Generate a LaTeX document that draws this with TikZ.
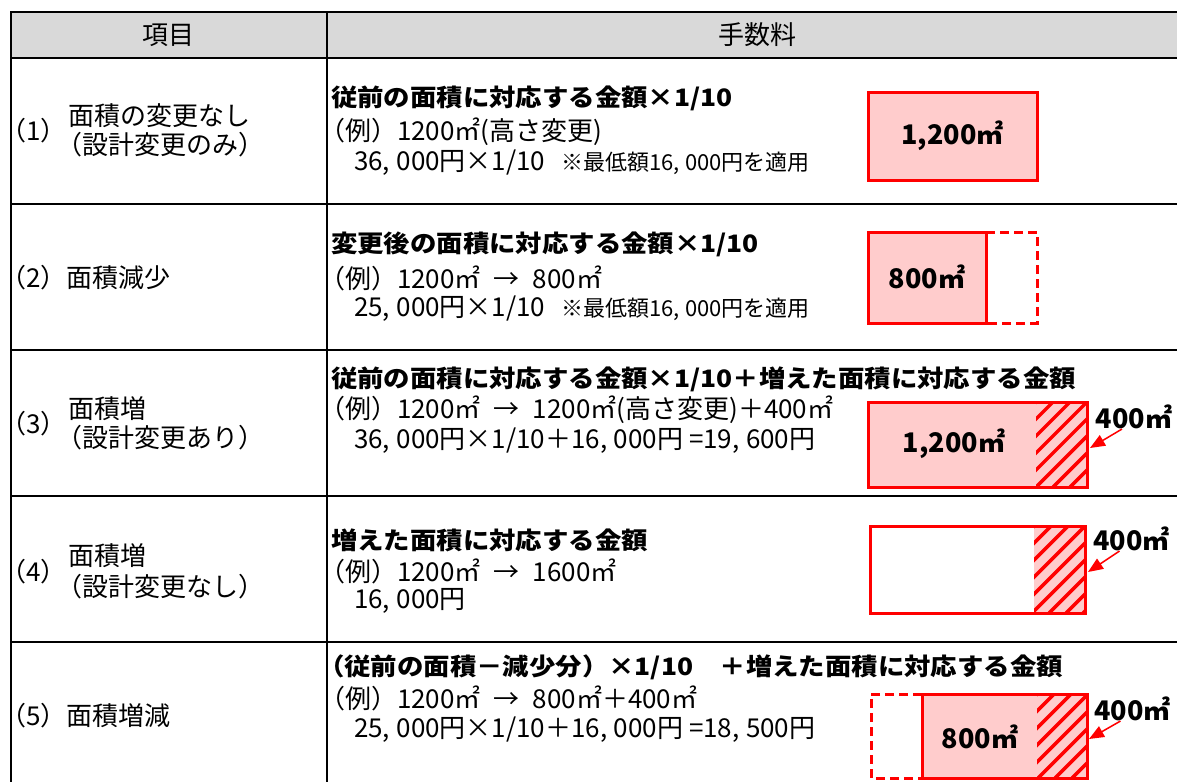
\documentclass[tikz,border=0pt]{standalone}
\usepackage{fontspec}
\setmainfont{Noto Sans CJK JP}
\newfontfamily\wideJP{Noto Sans CJK JP}[FakeStretch=1.1]
\newcommand\cm{,\hspace{0.25em}}
\usetikzlibrary{arrows.meta}

\begin{document}
\begin{tikzpicture}[x=1pt,y=-1pt,
  tableLine/.style={draw=black,line width=2pt},
  headText/.style={anchor=center,inner sep=0pt,outer sep=0pt,font=\fontsize{26}{31}\selectfont},
  itemText/.style={anchor=west,inner sep=0pt,outer sep=0pt,font=\fontsize{26}{31}\selectfont},
  exText/.style={itemText},
  ruleText/.style={anchor=west,inner sep=0pt,outer sep=0pt,font=\wideJP\bfseries\fontsize{24}{29}\selectfont},
  noteText/.style={anchor=west,inner sep=0pt,outer sep=0pt,font=\fontsize{22}{26}\selectfont},
  areaText/.style={anchor=center,inner sep=0pt,outer sep=0pt,font=\bfseries\fontsize{27}{32}\selectfont},
  areaBox/.style={draw=boxRed,line width=3pt,fill=boxPink},
  areaLine/.style={draw=boxRed,line width=3pt},
  areaDash/.style={draw=boxRed,line width=3pt,dash pattern=on 9pt off 5pt},
  hatchLine/.style={draw=boxRed,line width=3.5pt},
  pointer/.style={draw=boxRed,line width=1.5pt,-{Triangle[length=15pt,width=12pt]}}]
\definecolor{headGray}{RGB}{217,217,217}
\definecolor{boxRed}{RGB}{255,0,0}
\definecolor{boxPink}{RGB}{255,204,204}

\path[use as bounding box,fill=white] (0,0) rectangle (1177,782);

\path[fill=headGray] (11,12) rectangle (1177,57.5);
\foreach \y in {12,57.5,204,350,496,642}
  \path[tableLine] (10,\y) -- (1177,\y);
\path[tableLine] (11,11) -- (11,782);
\path[tableLine] (327,11) -- (327,782);

\node[headText] (head1) at (168,35) {項目};
\node[headText] (head2) at (757,35) {手数料};

\node[itemText] (num1) at (0,131) {（1）};
\node[itemText] (item1a) at (68,116) {面積の変更なし};
\node[itemText] (item1b) at (56,145) {（設計変更のみ）};
\node[itemText] (item2) at (0,278) {（2）面積減少};
\node[itemText] (num3) at (0,424) {（3）};
\node[itemText] (item3a) at (68,409) {面積増};
\node[itemText] (item3b) at (56,438) {（設計変更あり）};
\node[itemText] (num4) at (0,572) {（4）};
\node[itemText] (item4a) at (68,556) {面積増};
\node[itemText] (item4b) at (56,587) {（設計変更なし）};
\node[itemText] (item5) at (0,716) {（5）面積増減};

\node[ruleText] (rule1) at (331,98) {従前の面積に対応する金額×1/10};
\node[exText] (ex1) at (319,132) {（例）1200㎡(高さ変更)};
\node[exText] (calc1) at (354,163) {36\cm000円×1/10};
\node[noteText] (note1) at (561,163) {※最低額16\cm000円を適用};

\node[ruleText] (rule2) at (331,244) {変更後の面積に対応する金額×1/10};
\node[exText] (ex2) at (319,278) {（例）1200㎡\enspace→\enspace800㎡};
\node[exText] (calc2) at (354,309) {25\cm000円×1/10};
\node[noteText] (note2) at (561,309) {※最低額16\cm000円を適用};

\node[ruleText] (rule3) at (331,379) {従前の面積に対応する金額×1/10＋増えた面積に対応する金額};
\node[exText] (ex3) at (319,410) {（例）1200㎡\enspace→\enspace1200㎡(高さ変更)＋400㎡};
\node[exText] (calc3) at (354,441) {36\cm000円×1/10＋16\cm000円 =19\cm600円};

\node[ruleText] (rule4) at (331,540) {増えた面積に対応する金額};
\node[exText] (ex4) at (319,571) {（例）1200㎡\enspace→\enspace1600㎡};
\node[exText] (calc4) at (354,601) {16\cm000円};

\node[ruleText] (rule5) at (318,667) {（従前の面積－減少分）×1/10　＋増えた面積に対応する金額};
\node[exText] (ex5) at (319,698) {（例）1200㎡\enspace→\enspace800㎡＋400㎡};
\node[exText] (calc5) at (354,730) {25\cm000円×1/10＋16\cm000円 =18\cm500円};

\path[areaBox] (868,92) rectangle (1037,180);
\node[areaText] (area1) at (952.5,136) {1,200㎡};

\path[areaDash] (986,232) -- (1037,232) -- (1037,323) -- (986,323);
\path[areaBox] (868,232) rectangle (986,323);
\node[areaText] (area2) at (927,277) {800㎡};

\path[fill=boxPink] (868,402) rectangle (1087,487);
\begin{scope}
\path[clip] (1036,402) rectangle (1087,487);
\foreach \k in {0,...,9}
  \path[hatchLine] (951+17*\k,487) -- ++(85,-85);
\end{scope}
\path[areaLine] (868,402) rectangle (1087,487);
\node[areaText] (area3) at (954,444) {1,200㎡};
\node[areaText] (gain3) at (1134,417) {400㎡};
\coordinate (tip3) at (1090,448);
\path[pointer] (gain3.-135) -- (tip3);

\begin{scope}
\path[clip] (1034,526) rectangle (1085,613);
\path[fill=boxPink] (1034,526) rectangle (1085,613);
\foreach \k in {0,...,9}
  \path[hatchLine] (947+17*\k,613) -- ++(87,-87);
\end{scope}
\path[areaLine] (870,526) rectangle (1085,613);
\node[areaText] (gain4) at (1131.5,539) {400㎡};
\coordinate (tip4) at (1088,572);
\path[pointer] (gain4.-135) -- (tip4);

\path[areaDash] (922,694) -- (871,694) -- (871,778) -- (922,778);
\path[fill=boxPink] (922,694) rectangle (1087,778);
\begin{scope}
\path[clip] (1037,694) rectangle (1087,778);
\foreach \k in {0,...,9}
  \path[hatchLine] (953+17*\k,778) -- ++(84,-84);
\end{scope}
\path[areaLine] (922,694) rectangle (1087,778);
\node[areaText] (area5) at (980,737) {800㎡};
\node[areaText] (gain5) at (1132.5,709) {400㎡};
\coordinate (tip5) at (1089,739);
\path[pointer] (gain5.-135) -- (tip5);
\end{tikzpicture}
\end{document}
